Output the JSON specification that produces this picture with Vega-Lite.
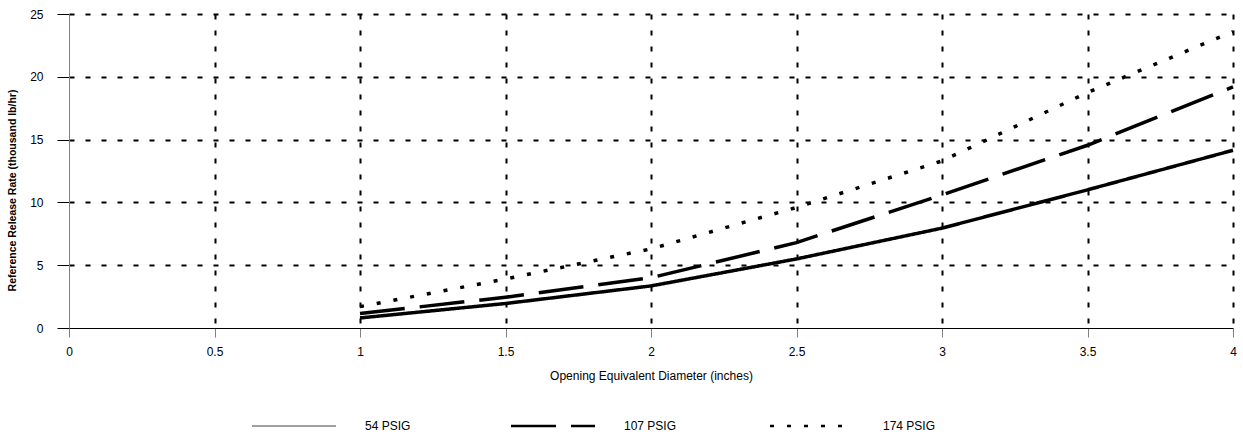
{
  "$schema": "https://vega.github.io/schema/vega-lite/v6.json",
  "width": 1164,
  "height": 314,
  "autosize": {"type": "none"},
  "padding": {"left": 69, "top": 14, "right": 10, "bottom": 110},
  "background": "white",
  "config": {
    "view": {"stroke": null},
    "font": "Liberation Sans",
    "axis": {"labelFont": "Liberation Sans", "titleFont": "Liberation Sans", "labelColor": "black", "titleColor": "black"}
  },
  "data": {
    "values": [
      {"d": 1, "rate": 0.8, "series": "54 PSIG"},
      {"d": 1.5, "rate": 1.95, "series": "54 PSIG"},
      {"d": 2, "rate": 3.35, "series": "54 PSIG"},
      {"d": 2.5, "rate": 5.5, "series": "54 PSIG"},
      {"d": 3, "rate": 7.95, "series": "54 PSIG"},
      {"d": 3.5, "rate": 11.0, "series": "54 PSIG"},
      {"d": 4, "rate": 14.15, "series": "54 PSIG"},
      {"d": 1, "rate": 1.15, "series": "107 PSIG"},
      {"d": 1.5, "rate": 2.45, "series": "107 PSIG"},
      {"d": 2, "rate": 4.0, "series": "107 PSIG"},
      {"d": 2.5, "rate": 6.8, "series": "107 PSIG"},
      {"d": 3, "rate": 10.6, "series": "107 PSIG"},
      {"d": 3.5, "rate": 14.55, "series": "107 PSIG"},
      {"d": 4, "rate": 19.2, "series": "107 PSIG"},
      {"d": 1, "rate": 1.7, "series": "174 PSIG"},
      {"d": 1.5, "rate": 3.9, "series": "174 PSIG"},
      {"d": 2, "rate": 6.3, "series": "174 PSIG"},
      {"d": 2.5, "rate": 9.6, "series": "174 PSIG"},
      {"d": 3, "rate": 13.3, "series": "174 PSIG"},
      {"d": 3.5, "rate": 18.75, "series": "174 PSIG"},
      {"d": 4, "rate": 23.6, "series": "174 PSIG"}
    ]
  },
  "mark": {"type": "line", "strokeWidth": 3.5, "strokeCap": "butt", "color": "black"},
  "encoding": {
    "x": {
      "field": "d",
      "type": "quantitative",
      "scale": {"domain": [0, 4], "nice": false, "zero": false},
      "axis": {
        "title": "Opening Equivalent Diameter (inches)",
        "values": [0, 0.5, 1, 1.5, 2, 2.5, 3, 3.5, 4],
        "format": "~g",
        "grid": true,
        "gridColor": "black",
        "gridDash": [5, 11],
        "gridWidth": 2,
        "gridOpacity": {"condition": {"test": "datum.value == 0", "value": 0}, "value": 1},
        "domainColor": "black",
        "domainWidth": 1,
        "tickColor": "#808080",
        "tickSize": 9,
        "tickWidth": 1,
        "labelFontSize": 12,
        "labelPadding": 9,
        "labelFlush": false,
        "titleFontSize": 12,
        "titleFontWeight": "normal",
        "titleY": 47,
        "titleBaseline": "middle"
      }
    },
    "y": {
      "field": "rate",
      "type": "quantitative",
      "scale": {"domain": [0, 25], "nice": false},
      "axis": {
        "title": "Reference Release Rate (thousand lb/hr)",
        "values": [0, 5, 10, 15, 20, 25],
        "grid": true,
        "gridColor": "black",
        "gridDash": [5, 11],
        "gridWidth": 2,
        "gridOpacity": {"condition": {"test": "datum.value == 0", "value": 0}, "value": 1},
        "domainColor": "#808080",
        "domainWidth": 1,
        "tickColor": "black",
        "tickSize": 12,
        "tickWidth": 1,
        "labelFontSize": 12,
        "labelPadding": 14,
        "titleFontSize": 10.5,
        "titleFontWeight": "bold",
        "titleX": -57,
        "titleY": 176,
        "titleAngle": -90,
        "titleAlign": "center",
        "titleBaseline": "middle"
      }
    },
    "strokeDash": {
      "field": "series",
      "type": "nominal",
      "scale": {"domain": ["54 PSIG", "107 PSIG", "174 PSIG"], "range": [[1, 0], [45, 15], [4, 13]]},
      "legend": {
        "title": null,
        "orient": "none",
        "direction": "horizontal",
        "legendX": 219,
        "legendY": 406,
        "symbolType": "stroke",
        "symbolSize": 7056,
        "symbolStrokeColor": "black",
        "labelFontSize": 12,
        "labelFont": "Liberation Sans",
        "labelColor": "black",
        "labelOffset": 65,
        "columnPadding": 88,
        "gridAlign": "all",
        "encode": {
          "symbols": {
            "update": {
              "stroke": {"signal": "datum.value === '54 PSIG' ? '#808080' : 'black'"},
              "strokeWidth": {"signal": "datum.value === '54 PSIG' ? 1.5 : 2.5"}
            }
          }
        }
      }
    }
  }
}
